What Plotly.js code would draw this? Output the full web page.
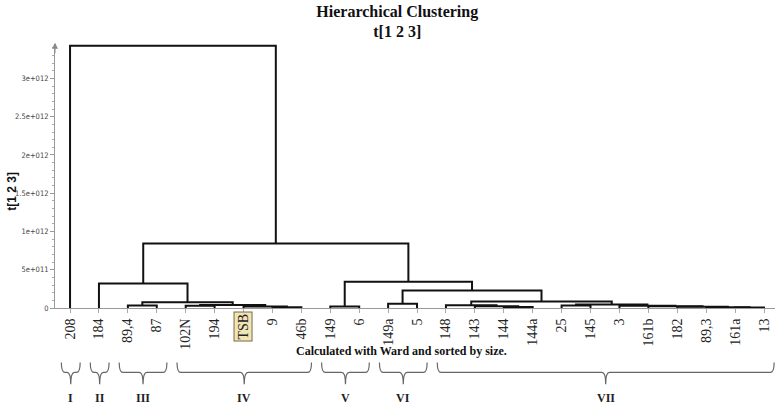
<!DOCTYPE html>
<html>
<head>
<meta charset="utf-8">
<script src="https://cdn.plot.ly/plotly-3.0.1.min.js"></script>
<style>html,body{margin:0;padding:0;background:#fff;}#chart{width:782px;height:414px;}</style>
</head>
<body>
<div id="chart"></div>
<script>
// ---- Data ----
const leafLabels = ['208','184','89,4','87','102N','194','TSB','9','46b','149','6','149a','5','148','143','144','144a','25','145','3','161b','182','89,3','161a','13'];
// linkage: cluster ids 0..24 are leaves; merge k creates id 25+k
const mergeA = [7, 6, 4, 27, 2, 29, 1, 9, 11, 15, 14, 13, 23, 22, 21, 20, 19, 17, 42, 36, 33, 32, 31, 0];
const mergeB = [8, 25, 5, 26, 3, 28, 30, 10, 12, 16, 34, 35, 24, 37, 38, 39, 40, 18, 41, 43, 44, 45, 46, 47];
const mergeH = [0.010e12, 0.018e12, 0.030e12, 0.040e12, 0.033e12, 0.075e12, 0.320e12, 0.020e12, 0.056e12,
                0.012e12, 0.024e12, 0.036e12, 0.005e12, 0.010e12, 0.016e12, 0.022e12, 0.028e12, 0.033e12,
                0.045e12, 0.085e12, 0.228e12, 0.342e12, 0.842e12, 3.427e12];
const yTickVals = [0, 0.5e12, 1e12, 1.5e12, 2e12, 2.5e12, 3e12];
const yTickText = ['0', '5e+011', '1e+012', '1.5e+012', '2e+012', '2.5e+012', '3e+012'];
const groupNames = ['I', 'II', 'III', 'IV', 'V', 'VI', 'VII'];
const groupFirst = [0, 1, 2, 4, 9, 11, 13];
const groupLast  = [0, 1, 3, 8, 10, 12, 24];
const highlightLabel = 'TSB';

// ---- Build dendrogram path ----
const nLeaf = leafLabels.length;
const posX = [], posY = [];
for (let i = 0; i < nLeaf; i++) { posX.push(i); posY.push(0); }
const lx = [], ly = [];
for (let k = 0; k < mergeA.length; k++) {
  const a = mergeA[k], b = mergeB[k], h = mergeH[k];
  lx.push(posX[a], posX[a], posX[b], posX[b], null);
  ly.push(posY[a], h, h, posY[b], null);
  posX.push((posX[a] + posX[b]) / 2);
  posY.push(h);
}

const traces = [{
  type: 'scatter', mode: 'lines', x: lx, y: ly,
  line: {color: '#111', width: 2}, hoverinfo: 'skip', showlegend: false, cliponaxis: false
}];

const tickText = leafLabels.map(s => s === highlightLabel ? '' : s);

// ---- plot geometry helpers ----
const T = 44, B = 105.5, H = 414;
const plotH = H - T - B;
const py = p => (H - B - p) / plotH; // pixel y -> paper y

const shapes = [];
const annotations = [];
for (let g = 0; g < groupNames.length; g++) {
  const x1 = groupFirst[g] - 0.3, x2 = groupLast[g] + 0.35, xc = (x1 + x2) / 2;
  const r = 0.13;
  const top = py(363), mid = py(373), tip = py(385);
  const path = `M ${x1},${top} Q ${x1},${mid} ${x1 + r},${mid} L ${xc - r},${mid} Q ${xc},${mid} ${xc},${tip} ` +
               `M ${xc},${tip} Q ${xc},${mid} ${xc + r},${mid} L ${x2 - r},${mid} Q ${x2},${mid} ${x2},${top}`;
  shapes.push({type: 'path', xref: 'x', yref: 'paper', path: path, line: {color: '#666', width: 1.2}});
  annotations.push({xref: 'x', yref: 'paper', x: xc, y: py(399), xanchor: 'center', yanchor: 'middle',
    text: groupNames[g], showarrow: false,
    font: {family: 'Liberation Serif, Times New Roman, serif', size: 12, color: '#222', weight: 'bold'}});
}
// highlighted leaf label
annotations.push({xref: 'x', yref: 'paper', x: leafLabels.indexOf(highlightLabel), y: py(312.5), xanchor: 'center', yanchor: 'top',
  text: highlightLabel, textangle: -90, showarrow: false, bgcolor: '#f2e5b5', bordercolor: '#7a6a45', borderwidth: 1, borderpad: 1,
  font: {family: 'Liberation Serif, Times New Roman, serif', size: 14, color: '#222'}});
// footer note
annotations.push({xref: 'paper', yref: 'paper', x: (401 - 55) / 720, y: py(352), xanchor: 'center', yanchor: 'middle',
  text: 'Calculated with Ward and sorted by size.',
  showarrow: false, font: {family: 'Liberation Serif, Times New Roman, serif', size: 12, color: '#111', weight: 'bold'}});
// y axis title
annotations.push({xref: 'paper', yref: 'paper', x: 0, xshift: -43, y: py(192), xanchor: 'center', yanchor: 'middle',
  text: 't[1 2 3]', textangle: -90,
  showarrow: false, font: {family: 'Liberation Sans, Arial, sans-serif', size: 12, color: '#111', weight: 'bold'}});
// axis arrow
annotations.push({xref: 'paper', yref: 'paper', x: 0, y: 1.005, ax: 0, ay: 12, text: '', showarrow: true,
  arrowhead: 2, arrowsize: 1.2, arrowwidth: 1, arrowcolor: '#888'});

const layout = {
  width: 782, height: 414,
  margin: {l: 55, r: 7, t: T, b: B},
  paper_bgcolor: '#fff', plot_bgcolor: '#fff',
  title: {text: 'Hierarchical Clustering<br>t[1 2 3]', xref: 'container', x: 0.508, xanchor: 'center',
    yref: 'container', y: 0.96, yanchor: 'top',
    font: {family: 'Liberation Serif, Times New Roman, serif', size: 16, color: '#111', weight: 'bold'}},
  xaxis: {range: [-0.52, 24.38], tickvals: leafLabels.map((_, i) => i), ticktext: tickText, tickangle: -90,
    showgrid: false, zeroline: false, showline: true, linecolor: '#999', linewidth: 1,
    ticks: 'outside', ticklen: 4, tickcolor: '#aaa',
    tickfont: {family: 'Liberation Serif, Times New Roman, serif', size: 14, color: '#222'}, fixedrange: true},
  yaxis: {range: [0, 3.45e12], tickvals: yTickVals, ticktext: yTickText,
    showgrid: false, zeroline: false, showline: true, linecolor: '#999', linewidth: 1,
    ticks: 'outside', ticklen: 4, tickcolor: '#999',
    minor: {dtick: 1e11, ticklen: 2, tickcolor: '#aaa', ticks: 'outside'},
    tickfont: {family: 'Liberation Sans Narrow, DejaVu Sans Condensed, sans-serif', size: 7.5, color: '#444'}, fixedrange: true},
  shapes: shapes,
  annotations: annotations
};

Plotly.newPlot('chart', traces, layout, {displayModeBar: false, staticPlot: true});
</script>
</body>
</html>
